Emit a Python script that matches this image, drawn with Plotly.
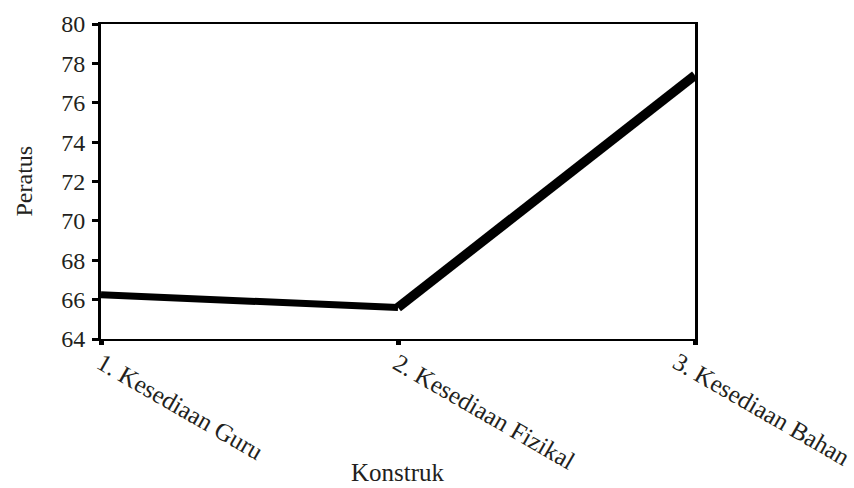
import plotly.graph_objects as go

categories = ["1. Kesediaan Guru", "2. Kesediaan Fizikal", "3. Kesediaan Bahan"]
values = [66.25, 65.6, 77.4]
y_ticks = [64, 66, 68, 70, 72, 74, 76, 78, 80]

FONT = "Liberation Serif"
TXT = "#231f20"

# line width per segment (the reference draws the rising segment heavier)
seg_widths = [7, 9.5]
# label centre offsets (px) from each category tick, rotated 30 degrees
label_dx = [79, 86, 67]
label_dy = [-67, -72, -70]

fig = go.Figure()
for i, w in enumerate(seg_widths):
    fig.add_trace(go.Scatter(
        x=categories[i:i + 2], y=values[i:i + 2], mode="lines",
        line=dict(color="black", width=w), showlegend=False, cliponaxis=False,
        hoverinfo="skip",
    ))

annotations = [
    dict(text="Peratus", xref="paper", yref="paper", x=0, y=0.5,
         xanchor="center", yanchor="middle", xshift=-78, textangle=-90,
         showarrow=False, font=dict(family=FONT, size=24, color=TXT)),
    dict(text="Konstruk", xref="paper", yref="paper", x=0.5, y=0,
         xanchor="center", yanchor="middle", yshift=-133,
         showarrow=False, font=dict(family=FONT, size=25, color=TXT)),
]
for c, dx, dy in zip(categories, label_dx, label_dy):
    annotations.append(dict(
        text=c, x=c, xref="x", y=0, yref="paper", xanchor="center",
        yanchor="middle", xshift=dx, yshift=dy, textangle=30,
        showarrow=False, font=dict(family=FONT, size=25, color=TXT),
    ))

fig.update_layout(
    width=854, height=488,
    margin=dict(l=101, r=159, t=24, b=149, autoexpand=False),
    paper_bgcolor="white", plot_bgcolor="white",
    font=dict(family=FONT, size=24, color=TXT),
    xaxis=dict(
        type="category", range=[0, 2], showgrid=False, zeroline=False,
        automargin=False, showticklabels=False,
        showline=True, linecolor="black", linewidth=1.5, mirror=True,
        ticks="outside", ticklen=4, tickwidth=5, tickcolor="black",
    ),
    yaxis=dict(
        range=[64, 80], tickvals=y_ticks, showgrid=False, zeroline=False,
        automargin=False,
        showline=True, linecolor="black", linewidth=3, mirror=True,
        ticks="outside", ticklen=6, tickwidth=3, tickcolor="black",
        ticklabelstandoff=2,
        tickfont=dict(family=FONT, size=24, color=TXT),
    ),
    annotations=annotations,
)

fig.write_html(
    "out.html",
    config={"displayModeBar": False},
    post_script="document.body.style.margin='0';document.body.style.overflow='hidden';",
)
